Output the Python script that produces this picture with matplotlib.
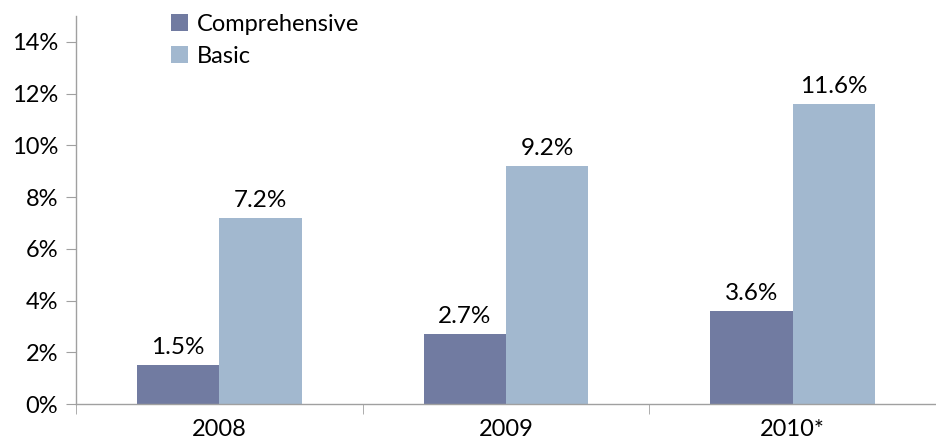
import matplotlib
matplotlib.use('Agg')
import matplotlib.pyplot as plt
import numpy as np

years = ['2008', '2009', '2010*']
comprehensive = [1.5, 2.7, 3.6]
basic = [7.2, 9.2, 11.6]
series_names = ['Comprehensive', 'Basic']
yticks = [0, 2, 4, 6, 8, 10, 12, 14]

plt.rcParams['font.family'] = ['Lato', 'DejaVu Sans']

fig = plt.figure(figsize=(9.36, 4.4), dpi=100)
ax = fig.add_axes([0.0812, 0.0818, 0.9188, 0.8818])

x = np.arange(len(years))
w = 0.287
b1 = ax.bar(x - w / 2, comprehensive, w, color='#717ba1', label=series_names[0])
b2 = ax.bar(x + w / 2, basic, w, color='#a2b8cf', label=series_names[1])

for bars, vals in [(b1, comprehensive), (b2, basic)]:
    for r, v in zip(bars, vals):
        ax.annotate('%.1f%%' % v, (r.get_x() + r.get_width() / 2, v),
                    xytext=(0, 5), textcoords='offset points',
                    ha='center', va='bottom', fontsize=17.5)

ax.set_ylim(0, 15)
ax.set_xlim(-0.5, 2.469)
ax.set_yticks(yticks)
ax.set_yticklabels(['%d%%' % t for t in yticks], fontsize=17)

# category labels in the middle, tick marks on the boundaries
ax.set_xticks(x)
ax.set_xticklabels(years, fontsize=17)
ax.tick_params(axis='x', length=0, pad=11)
ax.set_xticks(np.arange(-0.5, 3, 1), minor=True)
ax.tick_params(axis='x', which='minor', length=7, color='#a0a0a0', direction='out')
ax.tick_params(axis='y', length=7, color='#a0a0a0', direction='out', pad=6)

for s in ['top', 'right']:
    ax.spines[s].set_visible(False)
for s in ['left', 'bottom']:
    ax.spines[s].set_color('#a0a0a0')
    ax.spines[s].set_linewidth(1)

ax.legend(loc='upper left', bbox_to_anchor=(0.086, 1.06), frameon=False, fontsize=17,
          handlelength=0.7, handleheight=0.7, handletextpad=0.4, labelspacing=0.45)

fig.savefig('out.png', dpi=100)
